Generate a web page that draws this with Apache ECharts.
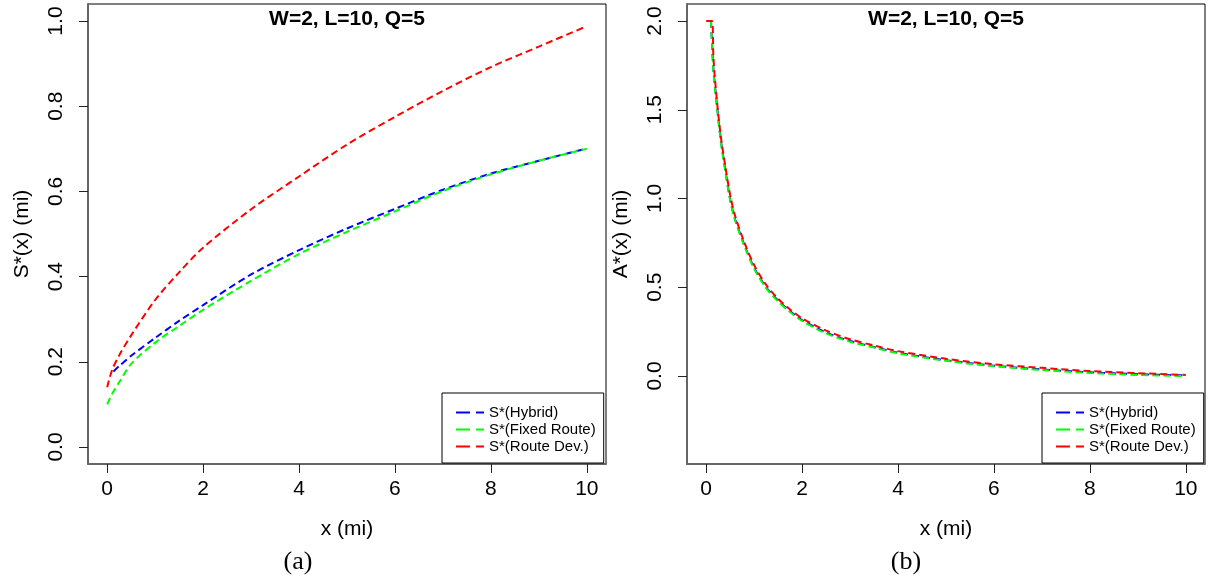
<!DOCTYPE html>
<html>
<head>
<meta charset="utf-8">
<script src="https://cdn.jsdelivr.net/npm/echarts@6/dist/echarts.min.js"></script>
<style>
html,body{margin:0;padding:0;background:#fff;}
#chart{width:1209px;height:584px;}
</style>
</head>
<body>
<div id="chart"></div>
<script>
// ---- data ----
const seriesNames = ['S*(Hybrid)', 'S*(Fixed Route)', 'S*(Route Dev.)'];
const plotTitle = 'W=2, L=10, Q=5';
const xTicks = [0, 2, 4, 6, 8, 10];
const sTicks = [0, 0.2, 0.4, 0.6, 0.8, 1.0];
const aTicks = [0, 0.5, 1.0, 1.5, 2.0];

// Panel (a): S*(x)
const sHybridX = [0.13, 0.25, 0.5, 1, 1.5, 2, 3, 4, 5, 6, 7, 8, 9, 10];
const sHybridY = [0.177, 0.190, 0.214, 0.256, 0.296, 0.333, 0.405, 0.462, 0.513, 0.559, 0.604, 0.642, 0.672, 0.701];
const sFixedX = [0, 0.1, 0.25, 0.5, 1, 1.5, 2, 3, 4, 5, 6, 7, 8, 9, 10];
const sFixedY = [0.100, 0.124, 0.152, 0.195, 0.245, 0.284, 0.322, 0.390, 0.453, 0.505, 0.553, 0.601, 0.640, 0.672, 0.700];
const sRouteX = [0, 0.1, 0.25, 0.5, 1, 1.5, 2, 3, 4, 5, 6, 7, 8, 9, 10];
const sRouteY = [0.140, 0.180, 0.215, 0.262, 0.345, 0.410, 0.468, 0.558, 0.635, 0.710, 0.775, 0.836, 0.892, 0.940, 0.988];

// Panel (b): A*(x)
const aHybridX = [0.1, 0.15, 0.2, 0.3, 0.4, 0.5, 0.6, 0.8, 1, 1.25, 1.5, 1.75, 2, 2.5, 3, 3.5, 4, 5, 6, 7, 8, 9, 10];
const aHybridY = [2.0, 1.73, 1.59, 1.34, 1.16, 0.995, 0.885, 0.735, 0.61, 0.50, 0.425, 0.364, 0.315, 0.245, 0.197, 0.163, 0.131, 0.089, 0.058, 0.037, 0.021, 0.010, 0.003];
const aFixedX = [0.1, 0.15, 0.2, 0.3, 0.4, 0.5, 0.6, 0.8, 1, 1.25, 1.5, 1.75, 2, 2.5, 3, 3.5, 4, 5, 6, 7, 8, 9, 10];
const aFixedY = [2.0, 1.72, 1.58, 1.33, 1.15, 0.99, 0.88, 0.73, 0.605, 0.495, 0.42, 0.36, 0.31, 0.24, 0.193, 0.160, 0.128, 0.086, 0.055, 0.034, 0.017, 0.006, 0.0];
const aRouteX = [0, 0.12, 0.15, 0.2, 0.3, 0.4, 0.5, 0.6, 0.8, 1, 1.25, 1.5, 1.75, 2, 2.5, 3, 3.5, 4, 5, 6, 7, 8, 9, 10];
const aRouteY = [2.0, 2.0, 1.80, 1.62, 1.36, 1.18, 1.02, 0.905, 0.75, 0.625, 0.513, 0.435, 0.375, 0.325, 0.256, 0.207, 0.172, 0.140, 0.097, 0.066, 0.046, 0.028, 0.016, 0.006];

// ---- build ----
const zip = (xs, ys) => xs.map((x, i) => [x, ys[i]]);
const colors = ['#0000ff', '#00ff00', '#ff0000'];
const FONT = '"Liberation Sans", Arial, sans-serif';

function mkSeries(name, color, data, gi) {
  return {
    type: 'line', name: name, xAxisIndex: gi, yAxisIndex: gi,
    data: data, symbol: 'none', showSymbol: false,
    smooth: 0.3,
    lineStyle: { color: color, width: 2, type: [7, 4] },
    itemStyle: { color: color },
    animation: false, z: 3
  };
}

function xAxisDef(gi) {
  return {
    type: 'value', gridIndex: gi, min: -0.4, max: 10.4,
    splitLine: { show: false },
    axisLine: { show: true, onZero: false, lineStyle: { color: '#666', width: 2 } },
    axisTick: { show: true, length: 9, customValues: xTicks, lineStyle: { color: '#222', width: 1 } },
    axisLabel: { customValues: xTicks, margin: 15, color: '#000', fontSize: 21, fontFamily: FONT, formatter: v => String(v) },
    name: 'x (mi)', nameLocation: 'middle', nameGap: 55,
    nameTextStyle: { color: '#000', fontSize: 21, fontFamily: FONT }
  };
}

function yAxisDef(gi, min, max, ticks, name) {
  return {
    type: 'value', gridIndex: gi, min: min, max: max,
    splitLine: { show: false },
    axisLine: { show: true, onZero: false, lineStyle: { color: '#666', width: 2 } },
    axisTick: { show: true, length: 9, customValues: ticks, lineStyle: { color: '#222', width: 1 } },
    axisLabel: { customValues: ticks, rotate: 90, align: 'center', verticalAlign: 'bottom', margin: 21,
      color: '#000', fontSize: 21, fontFamily: FONT, formatter: v => v.toFixed(1) },
    name: name, nameLocation: 'middle', nameRotate: 90, nameGap: 55,
    nameTextStyle: { color: '#000', fontSize: 21, fontFamily: FONT }
  };
}

function legendDef(left) {
  return {
    data: seriesNames, orient: 'vertical', left: left, top: 393,
    itemWidth: 28, itemHeight: 14, itemGap: 2, itemTextGap: 10,
    padding: [12, 8, 9, 13],
    borderColor: '#000', borderWidth: 1, backgroundColor: '#fff',
    lineStyle: { width: 2, type: [14, 6] },
    itemStyle: { color: 'rgba(0,0,0,0)', borderWidth: 0, opacity: 0 },
    textStyle: { color: '#000', fontSize: 15, fontFamily: FONT, lineHeight: 14 },
    selectedMode: false, z: 10
  };
}

const option = {
  backgroundColor: '#fff',
  animation: false,
  title: [
    { text: plotTitle, left: 347, top: 9, textAlign: 'center', padding: 0,
      textStyle: { fontSize: 21, fontWeight: 'bold', fontFamily: FONT, color: '#000' } },
    { text: plotTitle, left: 946, top: 9, textAlign: 'center', padding: 0,
      textStyle: { fontSize: 21, fontWeight: 'bold', fontFamily: FONT, color: '#000' } },
    { text: '(a)', left: 298, top: 549, textAlign: 'center', padding: 0,
      textStyle: { fontSize: 26, fontWeight: 'normal', fontFamily: '"Liberation Serif", "Times New Roman", serif', color: '#000' } },
    { text: '(b)', left: 906, top: 549, textAlign: 'center', padding: 0,
      textStyle: { fontSize: 26, fontWeight: 'normal', fontFamily: '"Liberation Serif", "Times New Roman", serif', color: '#000' } }
  ],
  grid: [
    { left: 88, top: 4, width: 518, height: 460, show: true, borderColor: '#000', borderWidth: 1, backgroundColor: 'transparent' },
    { left: 687, top: 4, width: 518, height: 460, show: true, borderColor: '#000', borderWidth: 1, backgroundColor: 'transparent' }
  ],
  xAxis: [xAxisDef(0), xAxisDef(1)],
  yAxis: [
    yAxisDef(0, -0.04, 1.04, sTicks, 'S*(x) (mi)'),
    yAxisDef(1, -0.496, 2.096, aTicks, 'A*(x) (mi)')
  ],
  legend: [legendDef(442), legendDef(1042)],
  series: [
    mkSeries(seriesNames[0], colors[0], zip(sHybridX, sHybridY), 0),
    mkSeries(seriesNames[1], colors[1], zip(sFixedX, sFixedY), 0),
    mkSeries(seriesNames[2], colors[2], zip(sRouteX, sRouteY), 0),
    mkSeries(seriesNames[0], colors[0], zip(aHybridX, aHybridY), 1),
    mkSeries(seriesNames[1], colors[1], zip(aFixedX, aFixedY), 1),
    mkSeries(seriesNames[2], colors[2], zip(aRouteX, aRouteY), 1)
  ]
};

const chart = echarts.init(document.getElementById('chart'), null, { renderer: 'canvas' });
chart.setOption(option);
</script>
</body>
</html>
